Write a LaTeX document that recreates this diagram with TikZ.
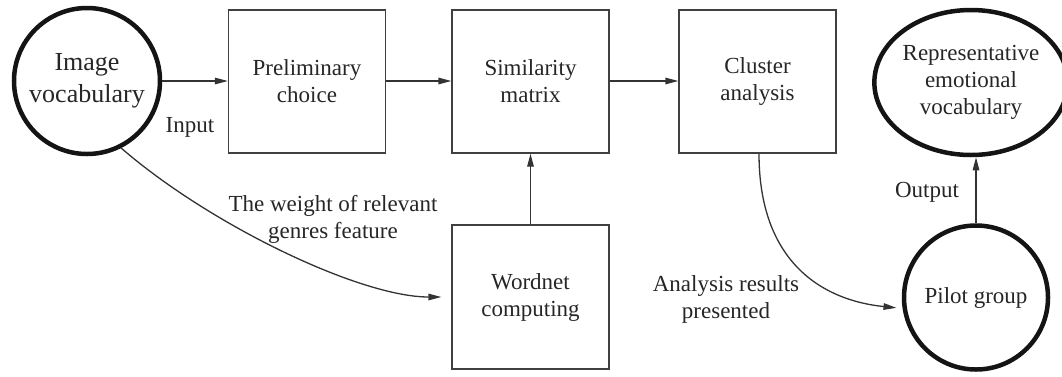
\documentclass[tikz,border=0pt]{standalone}
\usepackage{fontspec}
\setmainfont{Liberation Serif}
\usetikzlibrary{shapes.geometric,arrows.meta}
\begin{document}
\begin{tikzpicture}[x=1pt,y=-1pt,
  every node/.style={font=\fontsize{23}{27}\selectfont, text=black!85, align=center},
  stepbox/.style={draw=black!75, line width=1.3pt, minimum width=157pt, minimum height=143pt, inner sep=0pt},
  thickring/.style={draw=black!92, line width=4.5pt, inner sep=0pt},
  conn/.style={draw=black!80, line width=1.3pt, -{Triangle[length=13pt,width=6.5pt]}},
  lbl/.style={inner sep=0pt}]
\useasboundingbox (0,0) rectangle (1062,376);

% process nodes
\node[thickring, circle, minimum size=146pt, font=\fontsize{26}{32}\selectfont] (iv) at (87,81) {Image\\vocabulary};
\node[stepbox] (pc) at (307,81.5) {Preliminary\\choice};
\node[stepbox] (sm) at (530.5,81.5) {Similarity\\matrix};
\node[stepbox] (ca) at (757.5,81.5) {Cluster\\analysis};
\node[thickring, ellipse, minimum width=174pt, minimum height=145pt] (re) at (971,82.5) {Representative\\emotional\\vocabulary};
\node[stepbox, minimum height=144pt] (wn) at (530.5,297) {Wordnet\\computing};
\node[thickring, circle, minimum size=144pt] (pg) at (976,297.5) {Pilot group};

% connectors
\draw[conn] (iv.east |- 0,81) -- (pc.west |- 0,81);
\draw[conn] (pc.east |- 0,81) -- (sm.west |- 0,81);
\draw[conn] (sm.east |- 0,81) -- (ca.west |- 0,81);
\draw[conn] (wn.north) -- (sm.south);
\draw[conn] (iv.-63) .. controls (210,225) and (360,297) .. ([xshift=-10pt]wn.west);
\draw[conn] (ca.south -| 759,0) .. controls (759,260) and (820,300) .. ([xshift=-6pt]pg.188);
\draw[conn] (pg.north) -- (pg.north |- re.south);

% connector labels
\node[lbl] (lin) at (190,127) {Input};
\node[lbl] (lwt) at (333,219) {The weight of relevant\\genres feature};
\node[lbl] (lar) at (726,299) {Analysis results\\presented};
\node[lbl] (lout) at (927,192) {Output};
\end{tikzpicture}
\end{document}
